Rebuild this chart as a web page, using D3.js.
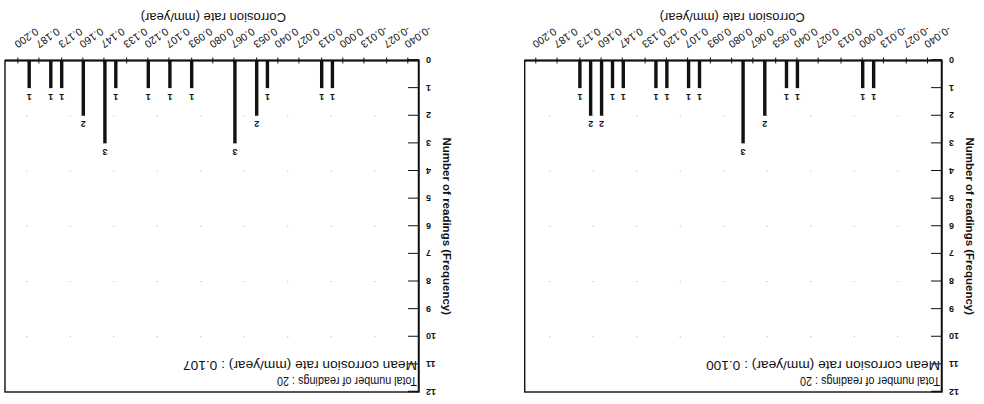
<!DOCTYPE html>
<html>
<head>
<meta charset="utf-8">
<script src="https://cdn.jsdelivr.net/npm/d3@7"></script>
<style>
  body { margin: 0; background: #fff; }
  svg { display: block; }
  text { font-family: "Liberation Sans", Arial, sans-serif; fill: #111; }
</style>
</head>
<body>
<svg id="chart" width="984" height="404"></svg>
<script>
// Corrosion-rate tick labels (mm/year), one every 1/75 mm/year
const rateTicks = ["-0.040", "-0.027", "-0.013", "0.000", "0.013", "0.027", "0.040",
  "0.053", "0.067", "0.080", "0.093", "0.107", "0.120", "0.133", "0.147",
  "0.160", "0.173", "0.187", "0.200"];
const freqTicks = [0, 1, 2, 3, 4, 5, 6, 7, 8, 9, 10, 11, 12];
const gridLevels = [2, 4, 6, 8, 10];

// Set A: mean 0.100 mm/year
const ratesA  = [-0.0067, 0.0000, 0.0400, 0.0467, 0.0600, 0.0733, 0.1000, 0.1067,
                 0.1200, 0.1267, 0.1467, 0.1533, 0.1600, 0.1667, 0.1733];
const countsA = [1, 1, 1, 1, 2, 3, 1, 1, 1, 1, 1, 1, 2, 2, 1];

// Set B: mean 0.107 mm/year
const ratesB  = [0.0067, 0.0133, 0.0467, 0.0533, 0.0667, 0.0933, 0.1067, 0.1200,
                 0.1400, 0.1467, 0.1600, 0.1733, 0.1800, 0.1933];
const countsB = [1, 1, 1, 2, 3, 1, 1, 1, 1, 3, 2, 1, 1, 1];

const totalA = 20, meanA = "0.100";
const totalB = 20, meanB = "0.107";

const svg = d3.select("#chart");
// the printed sheet is turned upside down
const root = svg.append("g").attr("transform", "rotate(180 492 202)");

const yTop = 12, yBottom = 343.5;
const y = d3.scaleLinear().domain([0, 12]).range([yBottom, yTop]);

function drawPanel(p) {
  const g = root.append("g");
  const x = d3.scaleLinear().domain([-0.04, 0.2]).range(p.tickRange);

  // faint dotted guide lines
  g.append("g").selectAll("line").data(gridLevels).join("line")
    .attr("x1", p.x0).attr("x2", p.x1)
    .attr("y1", d => y(d)).attr("y2", d => y(d))
    .attr("stroke", "#c8c8c8").attr("stroke-width", 1)
    .attr("stroke-dasharray", "1.5,42");

  // frame
  g.append("rect")
    .attr("x", p.x0).attr("y", yTop)
    .attr("width", p.x1 - p.x0).attr("height", yBottom - yTop)
    .attr("fill", "none").attr("stroke", "#111").attr("stroke-width", 1.4);

  // bars
  const bars = p.rates.map((r, i) => ({ r, c: p.counts[i] }));
  g.append("g").selectAll("rect").data(bars).join("rect")
    .attr("x", d => x(d.r) - 1.7).attr("width", 3.4)
    .attr("y", d => y(d.c)).attr("height", d => y(0) - y(d.c))
    .attr("fill", "#111");
  g.append("g").selectAll("text").data(bars).join("text")
    .attr("x", d => x(d.r)).attr("y", d => y(d.c) - 5.5)
    .attr("text-anchor", "middle")
    .attr("font-size", 9).attr("font-weight", "bold")
    .text(d => d.c);

  // x axis (corrosion rate)
  const tickVals = rateTicks.map(Number);
  const xAxis = g.append("g").attr("transform", `translate(0,${yBottom})`)
    .call(d3.axisBottom(x).tickValues(tickVals).tickSize(3).tickFormat((d, i) => rateTicks[i]));
  xAxis.select(".domain").remove();
  xAxis.selectAll(".tick line").attr("y1", -3).attr("stroke", "#111");
  xAxis.selectAll(".tick text")
    .attr("font-family", null).attr("font-size", 10.5)
    .attr("text-anchor", "end")
    .attr("dy", null).attr("y", 0)
    .attr("transform", "translate(4,18) rotate(-35)");
  g.append("line").attr("x1", p.x0).attr("x2", p.x1)
    .attr("y1", yBottom).attr("y2", yBottom)
    .attr("stroke", "#111").attr("stroke-width", 2);

  g.append("text")
    .attr("x", (p.tickRange[0] + p.tickRange[1]) / 2).attr("y", 391)
    .attr("text-anchor", "middle").attr("font-size", 13)
    .text("Corrosion rate (mm/year)");

  // y axis (frequency)
  const yAxis = g.append("g").attr("transform", `translate(${p.x0},0)`)
    .call(d3.axisLeft(y).tickValues(freqTicks).tickSize(-11).tickPadding(7));
  yAxis.select(".domain").attr("stroke", "#111").attr("stroke-width", 1.5);
  yAxis.selectAll(".tick line").attr("stroke", "#111");
  yAxis.selectAll(".tick text")
    .attr("font-family", null).attr("font-size", 9).attr("font-weight", "bold");

  g.append("text")
    .attr("transform", `translate(${p.x0 - 24},${(yTop + yBottom) / 2}) rotate(-90)`)
    .attr("text-anchor", "middle").attr("font-size", 11.5).attr("font-weight", "bold")
    .text("Number of readings (Frequency)");

  // summary
  g.append("text").attr("x", p.x0 + 2).attr("y", 27.5)
    .attr("font-size", 12.5).attr("textLength", 140).attr("lengthAdjust", "spacingAndGlyphs")
    .text(`Total number of readings : ${p.total}`);
  g.append("text").attr("x", p.x0 + 2).attr("y", 43)
    .attr("font-size", 13.5).attr("textLength", 234).attr("lengthAdjust", "spacingAndGlyphs")
    .text(`Mean corrosion rate (mm/year) : ${p.mean}`);
}

drawPanel({ rates: ratesA, counts: countsA, total: totalA, mean: meanA,
            x0: 42, x1: 459.3, tickRange: [56, 447.7] });
drawPanel({ rates: ratesB, counts: countsB, total: totalB, mean: meanB,
            x0: 565, x1: 979, tickRange: [575.7, 965.7] });
</script>
</body>
</html>
